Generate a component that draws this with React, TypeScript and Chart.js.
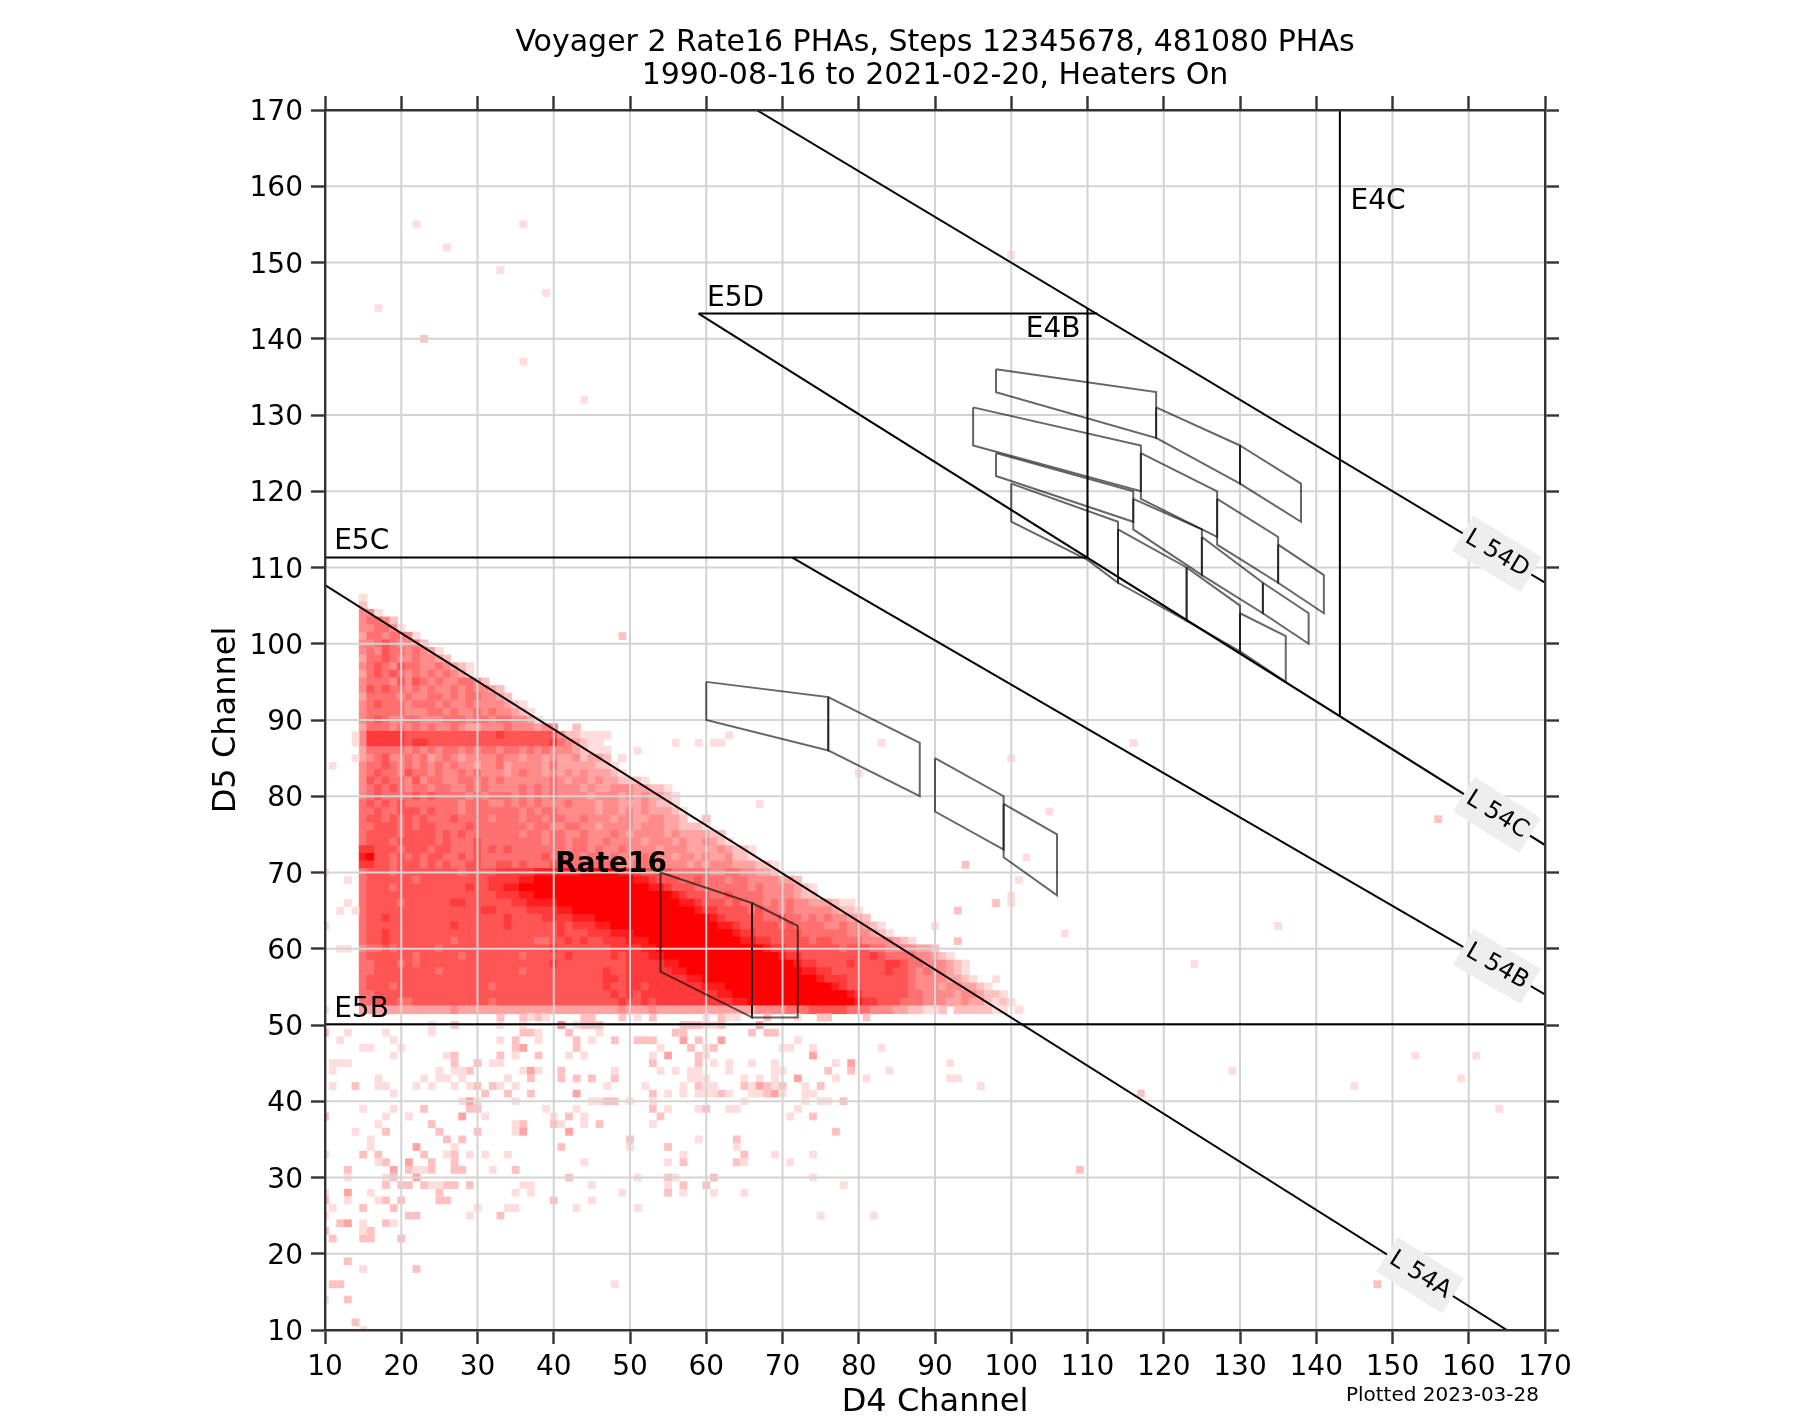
import { useEffect, useRef } from 'react';
import { Chart, registerables } from 'chart.js';

Chart.register(...registerables);

const titleLines = ['Voyager 2 Rate16 PHAs, Steps 12345678, 481080 PHAs', '1990-08-16 to 2021-02-20, Heaters On'];
const axisMin = 10;
const axisMax = 170;

// colour per count level, 0 is an empty cell
const levelColors = ['', '#ffdddd', '#ffc0c0', '#ffa3a3', '#ff8a8a', '#ff7070', '#ff5555', '#ff3a3a', '#ff1d1d', '#ff0000'];

// dense part: one string per D5 channel, first digit is D4 channel 15
const denseTopChannel = 106;
const denseFirstColumn = 15;
const denseRows = [
  '1',
  '2',
  '441',
  '45542',
  '445541',
  '35545541',
  '445654442',
  '45465545431',
  '355654454432',
  '456546554454321',
  '356565454545431',
  '45554646545445542',
  '4656554545 445454432',
  '3555545445 5454554432',
  '4565554555 4544544443 21',
  '4555554445 5454454544 321',
  '4565445544 4555455455 4431',
  '3555454545 4454334445 4443440020',
  '4777776666 6666666676 6666664221 111',
  '4777776776 6666666666 6666675432 11',
  '3555554545 4554545545 5454544432 111',
  '3456445453 4543444454 4344343342 33201',
  '4556545454 5454434453 4444353333 3221',
  '4565546554 5445454443 4544343434 33321',
  '4656554645 5445545454 4444454344 34332221',
  '4565654554 5544545444 4545454443 4334443322 1',
  '4565555656 5555454555 4545454444 3444343433 21',
  '5656565555 5554555445 4545444544 4344333432 21',
  '5565566656 5554555555 5454554444 4344343433 321',
  '5665656565 5565555455 5455455445 4443443344 332002',
  '5566656566 5555655555 5545544554 4344443444 332221',
  '5666656666 5656555555 5455455445 4445434444 34333322',
  '5666566666 5655565555 5555455455 4454444344 434334321',
  '7766656665 6655565656 5555555455 4544544443 4443333432 21',
  '8966565656 6556565555 5555656554 5545444544 4344343342 21',
  '7766566656 5655665566 5655566655 5555445544 4443434443 33221',
  '5666566666 6665666677 7778888889 9999887666 6555554455 44332',
  '5666666566 6666666777 7889999999 9999998876 6655655545 54444332',
  '5666566666 6666766778 8999999999 9999999988 7666555555 5454444321',
  '5666666666 6666666677 7889999999 9999999999 9876665565 5554444322',
  '5666656666 6677666666 7788889999 9999999999 9988766656 5554545443 33211',
  '5666666666 6666667766 6677778899 9999999999 9999877666 6565545444 443221',
  '5667666666 6666666667 6666777788 8999999999 9999998766 6665565545 4544332',
  '5666666666 6676666667 6666667677 7889999999 9999999887 6666656555 544544321',
  '5667666666 6666666666 6666667666 7778889999 9999999998 7766666655 5555444321',
  '5667666666 6656666666 6665566767 6677788899 9999999999 8877666665 6655554444 321',
  '4556566666 5666666666 6666676666 6667777889 9999999999 9998776666 6665666554 444332',
  '5666666566 6665666666 6566666766 6667677788 9999999999 9999987766 6666666765 55544321',
  '5566656566 6666666666 6666676666 6666677777 8899999999 9999999877 6666766667 7655444321',
  '5566666666 5666666666 6566666666 6676677777 7889999999 9999999988 7766666667 6654544321',
  '5666666666 6666666666 6666666666 6677677777 7778899999 9999999999 8777666666 6654444332 1',
  '5666566666 6666666566 6666666666 6676677677 7777788899 9999999999 9987666666 6654443443 321',
  '5566666666 6666666666 6666666666 6667676777 7777777889 9999999999 9999876666 6655444434 43221',
  '5566655666 6666666566 6666666666 6666766767 7777777778 8999999999 9999987766 6555444334 332121',
  '3333333333 3343333333 3333333333 3333433343 3333333333 3344445556 6666555444 3322112022 2221101',
];

// scattered cells: [D5 channel, D4 channel, level, D4 channel, level, ...]
const sparseCells = [
  [155, 22, 1, 36, 1], [152, 26, 1], [151, 100, 1], [149, 33, 1], [146, 39, 1], [144, 17, 1], [140, 23, 2], [137, 36, 1], [132, 44, 1],
  [101, 49, 2], [88, 14, 1, 63, 1], [87, 14, 1, 56, 1, 59, 1, 61, 1, 62, 1, 83, 1, 116, 1], [86, 51, 1], [85, 14, 1, 100, 1], [84, 11, 1], [83, 80, 1],
  [80, 56, 1], [79, 67, 1], [78, 105, 1], [77, 156, 2], [72, 102, 1], [71, 94, 2], [70, 10, 1], [69, 13, 1, 101, 1], [67, 100, 1], [66, 13, 1, 98, 2, 100, 1],
  [65, 12, 1, 14, 1, 93, 2], [63, 10, 1, 90, 1, 135, 1], [62, 107, 1], [61, 93, 2], [60, 12, 1, 13, 1], [58, 94, 1, 124, 1], [56, 98, 1], [52, 10, 1],
  [51, 33, 2, 36, 2, 37, 1, 38, 2, 39, 1, 44, 2, 45, 2, 49, 2, 51, 1, 53, 2, 60, 1, 62, 2, 63, 1, 64, 1, 68, 2, 72, 1, 75, 2, 76, 2, 81, 2],
  [50, 24, 1, 27, 2, 33, 1, 36, 1, 41, 4, 43, 1, 44, 2, 45, 2, 46, 2, 57, 2, 58, 2, 59, 2, 60, 1, 61, 1, 62, 2, 67, 3],
  [49, 10, 2, 13, 1, 18, 1, 24, 1, 36, 2, 37, 2, 38, 1, 42, 2, 46, 1, 56, 2, 57, 2, 66, 2, 68, 2, 69, 2],
  [48, 12, 1, 19, 1, 33, 1, 35, 2, 38, 1, 43, 2, 45, 1, 48, 2, 51, 2, 52, 2, 53, 2, 57, 3, 59, 2, 62, 3, 72, 1],
  [47, 15, 1, 16, 1, 20, 1, 35, 2, 36, 3, 43, 2, 54, 1, 58, 2, 60, 1, 61, 2, 70, 1, 71, 1, 74, 1, 83, 1],
  [46, 19, 1, 26, 1, 27, 2, 33, 2, 35, 1, 38, 2, 42, 1, 44, 1, 53, 1, 55, 3, 59, 2, 60, 1, 74, 3, 153, 1, 161, 1],
  [45, 11, 1, 12, 1, 13, 1, 27, 2, 30, 2, 32, 1, 33, 1, 53, 2, 59, 2, 61, 1, 63, 1, 66, 1, 69, 1, 77, 1, 79, 3, 92, 1],
  [44, 11, 1, 25, 1, 27, 1, 28, 1, 29, 2, 36, 1, 37, 3, 38, 1, 41, 2, 48, 1, 54, 1, 56, 1, 58, 1, 59, 1, 63, 1, 69, 1, 70, 1, 76, 2, 79, 2, 84, 1, 129, 1],
  [43, 17, 1, 23, 1, 25, 1, 26, 1, 28, 1, 34, 1, 37, 2, 41, 2, 43, 2, 45, 2, 48, 2, 58, 1, 59, 1, 60, 1, 65, 1, 67, 1, 69, 1, 72, 3, 77, 1, 81, 1, 92, 1, 93, 1, 159, 1],
  [42, 11, 1, 14, 2, 17, 1, 18, 1, 22, 1, 24, 1, 27, 1, 29, 1, 30, 2, 32, 2, 33, 1, 35, 1, 47, 1, 52, 1, 57, 1, 59, 2, 60, 1, 61, 1, 65, 2, 66, 1, 67, 3, 68, 2, 69, 1, 70, 2, 73, 1, 75, 2, 96, 1, 145, 1],
  [41, 19, 1, 31, 2, 34, 2, 37, 2, 43, 3, 53, 2, 55, 1, 57, 1, 59, 1, 60, 1, 61, 1, 62, 2, 63, 1, 66, 1, 67, 1, 68, 2, 69, 3, 70, 1, 73, 1, 74, 1, 117, 2],
  [40, 28, 1, 29, 3, 30, 1, 35, 1, 45, 1, 46, 1, 47, 2, 48, 2, 50, 1, 53, 1, 65, 1, 73, 1, 75, 1, 76, 1, 78, 2],
  [39, 15, 1, 19, 1, 23, 2, 29, 2, 30, 2, 39, 1, 43, 1, 53, 2, 55, 1, 59, 1, 60, 2, 63, 1, 64, 1, 72, 1, 164, 1],
  [38, 10, 2, 18, 1, 21, 1, 28, 3, 31, 1, 40, 1, 42, 2, 44, 1, 54, 2, 71, 1, 74, 2],
  [37, 17, 1, 24, 2, 35, 1, 36, 2, 40, 2, 41, 1, 44, 1, 46, 2, 53, 1],
  [36, 14, 1, 18, 2, 25, 2, 30, 2, 35, 1, 36, 3, 42, 3, 77, 2],
  [35, 16, 1, 26, 2, 28, 2, 50, 2, 59, 1, 64, 2],
  [34, 16, 1, 22, 3, 27, 1, 41, 2, 50, 1, 55, 2, 64, 1],
  [33, 10, 1, 15, 2, 17, 2, 23, 2, 26, 1, 27, 2, 29, 1, 31, 1, 34, 1, 57, 1, 65, 2, 69, 1, 74, 1],
  [32, 17, 1, 18, 2, 21, 3, 24, 2, 27, 2, 44, 1, 55, 1, 57, 2, 64, 2, 65, 1, 71, 1],
  [31, 13, 2, 19, 3, 21, 2, 22, 1, 23, 1, 24, 2, 27, 2, 28, 2, 32, 1, 35, 2, 109, 2],
  [30, 13, 1, 18, 1, 19, 2, 22, 3, 42, 2, 51, 1, 55, 2, 56, 1, 61, 2, 74, 1],
  [29, 18, 2, 20, 2, 21, 2, 23, 2, 24, 1, 25, 1, 26, 2, 27, 2, 29, 2, 36, 1, 37, 1, 45, 1, 55, 1, 57, 2, 60, 2, 78, 1],
  [28, 10, 1, 13, 3, 16, 1, 25, 2, 35, 1, 37, 1, 49, 1, 55, 2, 57, 1, 61, 1, 65, 1],
  [27, 10, 2, 13, 1, 17, 1, 18, 2, 20, 2, 25, 2, 26, 2, 40, 2, 45, 1],
  [26, 11, 1, 15, 2, 19, 2, 30, 1, 34, 1, 35, 1, 43, 1, 51, 1],
  [25, 10, 1, 21, 2, 22, 2, 29, 1, 33, 2, 75, 1, 82, 1],
  [24, 12, 2, 13, 3, 15, 1, 18, 2, 19, 1],
  [23, 10, 2, 15, 1, 16, 2],
  [22, 11, 2, 15, 2, 16, 2, 20, 2],
  [19, 13, 2],
  [18, 15, 1, 22, 2],
  [16, 11, 2, 12, 2, 48, 1, 148, 2],
  [14, 10, 1, 13, 2],
  [11, 14, 2],
  [10, 15, 1],
];

// threshold lines, each [x1, y1, x2, y2]
const thresholdLines = [
  [10, 50.1, 170, 50.1], // E5B
  [10, 111.3, 110, 111.3], // E5C
  [59, 143.3, 111.3, 143.3], // E5D
  [110, 111.3, 110, 144], // E4B
  [143.1, 170, 143.1, 90.5], // E4C
  [10, 107.7, 165, 10], // L 54A
  [71.3, 111.3, 170, 54], // L 54B
  [59, 143.3, 170, 73.6], // L 54C
  [66.6, 170, 170, 108], // L 54D
];

// rate boxes, x,y corners in channels
const rateBoxes = [
  [54, 70, 66, 66, 66, 51, 54, 57],
  [66, 66, 72, 63, 72, 51, 66, 51],
  [60, 95, 76, 93, 76, 86, 60, 90],
  [76, 93, 88, 87, 88, 80, 76, 86],
  [90, 85, 99, 80, 99, 73, 90, 78],
  [99, 79, 106, 75, 106, 67, 99, 72],
  [98, 136, 119, 133, 119, 127, 98, 133],
  [119, 131, 130, 126, 130, 121, 119, 127],
  [130, 126, 138, 121, 138, 116, 130, 121],
  [95, 131, 117, 126, 117, 120, 95, 126],
  [117, 125, 127, 120, 127, 114, 117, 119],
  [127, 119, 135, 114, 135, 108, 127, 113],
  [135, 113, 141, 109, 141, 104, 135, 108],
  [98, 125, 116, 120, 116, 116, 98, 122],
  [116, 119, 125, 115, 125, 109, 116, 115],
  [125, 114, 133, 108, 133, 104, 125, 109],
  [133, 108, 139, 104, 139, 100, 133, 104],
  [100, 121, 114, 116, 114, 108, 110, 111, 100, 116],
  [114, 115, 123, 110, 123, 103, 114, 108],
  [123, 110, 130, 105, 130, 99, 123, 103],
  [130, 104, 136, 101, 136, 95, 130, 99],
];

const regionNames = ['E4C', 'E5D', 'E4B', 'E5C', 'E5B'];
const regionX = [144.5, 60.1, 101.9, 11.2, 11.2];
const regionY = [157, 144.3, 140.2, 112.4, 51.1];

const lineNames = ['L 54A', 'L 54B', 'L 54C', 'L 54D'];
const lineLabelX = [153.6, 163.7, 163.7, 163.7];
const lineIndex = [5, 6, 7, 8];

const FONT = '"DejaVu Sans"';
const DENSE_RADIUS = 6.1;
const SPARSE_RADIUS = 5.5;

function buildHeatPoints() {
  const pts: { x: number; y: number }[] = [];
  const colors: string[] = [];
  const radii: number[] = [];
  denseRows.forEach((row, i) => {
    const digits = row.replace(/ /g, '');
    for (let c = 0; c < digits.length; c++) {
      const level = Number(digits[c]);
      if (!level) continue;
      pts.push({ x: denseFirstColumn + c, y: denseTopChannel - i });
      colors.push(levelColors[level]);
      radii.push(DENSE_RADIUS);
    }
  });
  sparseCells.forEach((row) => {
    for (let k = 1; k < row.length; k += 2) {
      pts.push({ x: row[k], y: row[0] });
      colors.push(levelColors[row[k + 1]]);
      radii.push(SPARSE_RADIUS);
    }
  });
  return { pts, colors, radii };
}

// grid has to sit over the heat map but under the black lines
const gridOverHeat = {
  id: 'gridOverHeat',
  afterDatasetDraw(chart: any, args: any) {
    if (chart.data.datasets[args.index].label !== 'PHAs') return;
    const { ctx, chartArea, scales } = chart;
    ctx.save();
    ctx.strokeStyle = '#d3d3d3';
    ctx.lineWidth = 2;
    ctx.beginPath();
    scales.x.ticks.forEach((t: any) => {
      const p = scales.x.getPixelForValue(t.value);
      ctx.moveTo(p, chartArea.top);
      ctx.lineTo(p, chartArea.bottom);
    });
    scales.y.ticks.forEach((t: any) => {
      const p = scales.y.getPixelForValue(t.value);
      ctx.moveTo(chartArea.left, p);
      ctx.lineTo(chartArea.right, p);
    });
    ctx.stroke();
    ctx.restore();
  },
};

const chartLabels = {
  id: 'chartLabels',
  afterDraw(chart: any) {
    const { ctx, scales, chartArea } = chart;
    const px = (v: number) => scales.x.getPixelForValue(v);
    const py = (v: number) => scales.y.getPixelForValue(v);
    ctx.save();
    ctx.fillStyle = '#000';
    ctx.textAlign = 'left';
    ctx.textBaseline = 'alphabetic';
    ctx.font = `28px ${FONT}`;
    regionNames.forEach((name, i) => ctx.fillText(name, px(regionX[i]), py(regionY[i])));
    ctx.font = `bold 28px ${FONT}`;
    ctx.fillText('Rate16', px(40.2), py(70.1));

    // y tick labels, centred on the digit height like the original
    ctx.font = `28px ${FONT}`;
    ctx.textAlign = 'right';
    scales.y.ticks.forEach((t: any) => {
      ctx.fillText(String(t.value), chartArea.left - 22, scales.y.getPixelForValue(t.value) + 10);
    });

    lineNames.forEach((name, i) => {
      const [x1, y1, x2, y2] = thresholdLines[lineIndex[i]];
      const lx = lineLabelX[i];
      const ly = y1 + ((y2 - y1) * (lx - x1)) / (x2 - x1);
      const angle = Math.atan2(py(y2) - py(y1), px(x2) - px(x1));
      ctx.save();
      ctx.translate(px(lx), py(ly));
      ctx.rotate(angle);
      ctx.font = `24px ${FONT}`;
      const w = ctx.measureText(name).width + 10;
      ctx.fillStyle = '#eeeeee';
      ctx.fillRect(-w / 2, -20.5, w, 41);
      ctx.fillStyle = '#000';
      ctx.textAlign = 'center';
      ctx.textBaseline = 'middle';
      ctx.fillText(name, 0, 0);
      ctx.restore();
    });

    ctx.font = `20px ${FONT}`;
    ctx.textAlign = 'right';
    ctx.fillStyle = '#000';
    ctx.fillText('Plotted 2023-03-28', 1539, 1401);
    ctx.restore();
  },
};

const App = () => {
  const canvasRef = useRef<HTMLCanvasElement | null>(null);

  useEffect(() => {
    if (!canvasRef.current) return;
    const ctx = canvasRef.current.getContext('2d');
    if (!ctx) return;

    const heat = buildHeatPoints();
    const line = (data: { x: number; y: number }[], color: string, width: number) => ({
      data,
      showLine: true,
      borderColor: color,
      borderWidth: width,
      pointRadius: 0,
      order: 1,
    });

    const boxPoints = (b: number[]) => {
      const pts: { x: number; y: number }[] = [];
      for (let i = 0; i < b.length; i += 2) pts.push({ x: b[i], y: b[i + 1] });
      pts.push({ x: b[0], y: b[1] });
      return pts;
    };

    const tickAxis = (size: number, isTop: boolean) => ({
      min: axisMin,
      max: axisMax,
      afterFit: (s: any) => {
        if (isTop) s.height = size;
        else s.width = size;
      },
      border: { color: '#333', width: 2.4, z: 1 },
      grid: { drawOnChartArea: false, tickColor: '#333', tickWidth: 2.4, tickLength: 14 },
      ticks: { stepSize: 10, display: false },
    });

    const mainTitle = (text: string, padding: any) => ({
      display: true,
      text,
      color: '#000',
      padding,
      font: { family: FONT, size: 32 },
    });

    const chart = new Chart(ctx, {
      type: 'scatter',
      data: {
        datasets: [
          ...thresholdLines.map(([x1, y1, x2, y2]) => line([{ x: x1, y: y1 }, { x: x2, y: y2 }], '#000', 2)),
          ...rateBoxes.map((b) => line(boxPoints(b), 'rgba(0,0,0,0.6)', 2)),
          {
            label: 'PHAs',
            data: heat.pts,
            showLine: false,
            order: 2,
            pointStyle: 'rect',
            pointRadius: heat.radii,
            pointBorderWidth: 0,
            pointBackgroundColor: heat.colors,
          },
        ] as any,
      },
      options: {
        animation: false,
        responsive: false,
        devicePixelRatio: 1,
        events: [],
        layout: { padding: { left: 207 } },
        plugins: {
          legend: { display: false },
          tooltip: { enabled: false },
          title: {
            display: true,
            text: titleLines,
            fullSize: false,
            color: '#000',
            padding: { top: 27, bottom: 4 },
            font: { family: FONT, size: 30, weight: 'normal', lineHeight: 33 / 30 },
          },
        },
        scales: {
          x: {
            type: 'linear',
            position: 'bottom',
            min: axisMin,
            max: axisMax,
            afterFit: (s: any) => {
              s.height = 94;
            },
            border: { color: '#333', width: 2.4, z: 1 },
            grid: { drawOnChartArea: false, tickColor: '#333', tickWidth: 2.4, tickLength: 14 },
            ticks: { stepSize: 10, autoSkip: false, maxRotation: 0, color: '#000', padding: 7, font: { family: FONT, size: 28 } },
            title: mainTitle('D4 Channel', { bottom: 2 }),
          },
          y: {
            type: 'linear',
            position: 'left',
            min: axisMin,
            max: axisMax,
            afterFit: (s: any) => {
              s.width = 118;
            },
            border: { color: '#333', width: 2.4, z: 1 },
            grid: { drawOnChartArea: false, tickColor: '#333', tickWidth: 2.4, tickLength: 14 },
            ticks: { stepSize: 10, display: false },
            title: mainTitle('D5 Channel', { top: 0 }),
          },
          xTop: { type: 'linear', position: 'top', ...tickAxis(13, true) },
          yRight: { type: 'linear', position: 'right', ...tickAxis(275, false) },
        },
      } as any,
      plugins: [gridOverHeat, chartLabels],
    });

    return () => chart.destroy();
  }, []);

  return <canvas ref={canvasRef} width={1820} height={1424} style={{ position: 'absolute', left: 0, top: 0, display: 'block' }} />;
};

export default App;
